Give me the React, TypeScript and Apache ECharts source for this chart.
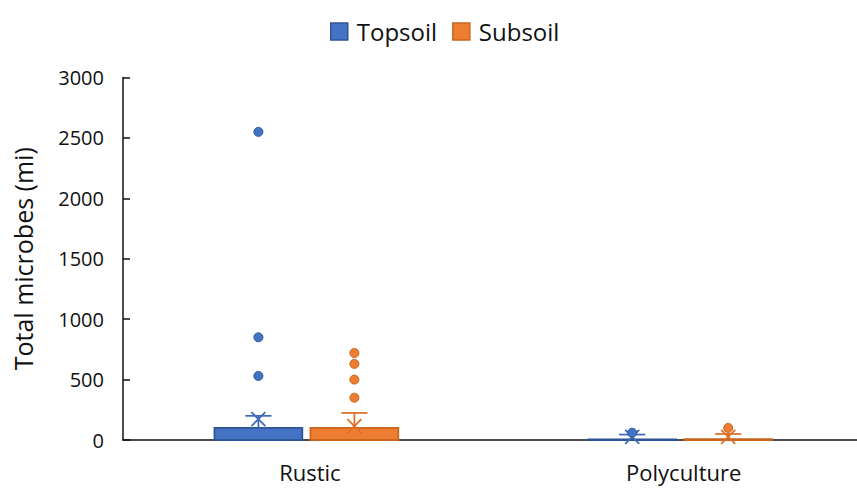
import React, { useEffect, useRef } from 'react';
import * as echarts from 'echarts';

const categories = ['Rustic', 'Polyculture'];
// each row: [min, Q1, median, Q3, max]
const topsoilBox = [
  [0, 0, 0, 100, 200],
  [0, 0, 1, 6, 45],
];
const subsoilBox = [
  [0, 0, 0, 100, 224],
  [0, 0, 1, 8, 50],
];
const topsoilMean = [172, 25];
const subsoilMean = [115, 25];
// [category index, value]
const topsoilOutliers = [
  [0, 2550],
  [0, 850],
  [0, 530],
  [1, 60],
];
const subsoilOutliers = [
  [0, 720],
  [0, 630],
  [0, 500],
  [0, 350],
  [1, 100],
];
const yMin = 0;
const yMax = 3000;
const yInterval = 500;

const FONT = '"Open Sans", "Noto Sans", sans-serif';
const TEXT = '#111111';

const BLUE = { fill: '#4472C4', stroke: '#2F5597', line: '#3F69B8' };
const ORANGE = { fill: '#ED7D31', stroke: '#C9651F', line: '#DD7028' };

function boxRenderer(offset: number, c: { fill: string; stroke: string; line: string }) {
  return (params: any, api: any) => {
    const idx = api.value(0);
    const band = api.size([1, 0])[0];
    const cx = api.coord([idx, 0])[0] + offset * band;
    const w = band * 0.235;
    const y = (v: number) => api.coord([idx, v])[1];
    const yMn = y(api.value(1));
    const yQ1 = y(api.value(2));
    const yMed = y(api.value(3));
    const yQ3 = y(api.value(4));
    const yMx = y(api.value(5));
    const yMean = y(api.value(6));
    const cap = (band * 0.07) / 2;
    const m = 7;
    const ls = { stroke: c.line, lineWidth: 1.75 };
    return {
      type: 'group',
      children: [
        { type: 'line', shape: { x1: cx, y1: yQ3, x2: cx, y2: yMx }, style: ls },
        { type: 'line', shape: { x1: cx - cap, y1: yMx, x2: cx + cap, y2: yMx }, style: ls },
        { type: 'line', shape: { x1: cx, y1: yQ1, x2: cx, y2: yMn }, style: ls },
        { type: 'line', shape: { x1: cx - cap, y1: yMn, x2: cx + cap, y2: yMn }, style: ls },
        {
          type: 'rect',
          shape: { x: cx - w / 2, y: yQ3, width: w, height: Math.max(yQ1 - yQ3, 0.5) },
          style: { fill: c.fill, stroke: c.stroke, lineWidth: 1.75 },
        },
        { type: 'line', shape: { x1: cx - w / 2, y1: yMed, x2: cx + w / 2, y2: yMed }, style: { stroke: c.stroke, lineWidth: 1.5 } },
        { type: 'line', shape: { x1: cx - m, y1: yMean - m, x2: cx + m, y2: yMean + m }, style: ls },
        { type: 'line', shape: { x1: cx - m, y1: yMean + m, x2: cx + m, y2: yMean - m }, style: ls },
      ],
    };
  };
}

function outlierRenderer(offset: number, c: { fill: string; stroke: string; line: string }) {
  return (params: any, api: any) => {
    const idx = api.value(0);
    const band = api.size([1, 0])[0];
    const p = api.coord([idx, api.value(1)]);
    return {
      type: 'circle',
      shape: { cx: p[0] + offset * band, cy: p[1], r: 4.5 },
      style: { fill: c.fill, stroke: c.stroke, lineWidth: 1 },
    };
  };
}

const TOP_OFFSET = -0.1378;
const SUB_OFFSET = 0.119;

export default function App() {
  const ref = useRef<HTMLDivElement>(null);
  useEffect(() => {
    if (!ref.current) return;
    const chart = echarts.init(ref.current, undefined, { renderer: 'svg' });
    chart.setOption({
      animation: false,
      backgroundColor: '#ffffff',
      textStyle: { fontFamily: FONT },
      legend: {
        left: 325,
        top: 14.5,
        padding: 5,
        itemWidth: 17,
        itemHeight: 17,
        itemGap: 15,
        textStyle: { fontSize: 24, color: TEXT, fontFamily: FONT, padding: [0, 0, 0, 4] },
        data: [
          { name: 'Topsoil', icon: 'rect', itemStyle: { color: BLUE.fill, borderColor: BLUE.stroke, borderWidth: 1.5 } },
          { name: 'Subsoil', icon: 'rect', itemStyle: { color: ORANGE.fill, borderColor: ORANGE.stroke, borderWidth: 1.5 } },
        ],
      },
      grid: { left: 123, top: 77.5, width: 747.6, height: 362.5, containLabel: false, outerBoundsMode: 'none' },
      xAxis: {
        type: 'category',
        data: categories,
        boundaryGap: true,
        axisLine: { show: true, lineStyle: { color: '#111', width: 1.5 } },
        axisTick: { show: false },
        axisLabel: { fontSize: 22, color: TEXT, margin: 21, fontFamily: FONT },
        splitLine: { show: false },
      },
      yAxis: {
        type: 'value',
        min: yMin,
        max: yMax,
        interval: yInterval,
        name: 'Total microbes (mi)',
        nameLocation: 'middle',
        nameGap: 88,
        nameTextStyle: { fontSize: 25, color: TEXT, fontFamily: FONT },
        axisLine: { show: true, lineStyle: { color: '#111', width: 1.5 } },
        axisTick: { show: true, inside: true, length: 7, lineStyle: { color: '#111', width: 1.5 } },
        axisLabel: { fontSize: 20, color: TEXT, margin: 19, fontFamily: FONT, formatter: (v: number) => String(v) },
        splitLine: { show: false },
      },
      series: [
        {
          name: 'Topsoil',
          type: 'custom',
          renderItem: boxRenderer(TOP_OFFSET, BLUE),
          itemStyle: { color: BLUE.fill },
          encode: { x: 0, y: [1, 2, 3, 4, 5, 6] },
          data: topsoilBox.map((b, i) => [i, ...b, topsoilMean[i]]),
        },
        {
          name: 'Subsoil',
          type: 'custom',
          renderItem: boxRenderer(SUB_OFFSET, ORANGE),
          itemStyle: { color: ORANGE.fill },
          encode: { x: 0, y: [1, 2, 3, 4, 5, 6] },
          data: subsoilBox.map((b, i) => [i, ...b, subsoilMean[i]]),
        },
        {
          name: 'Topsoil',
          type: 'custom',
          renderItem: outlierRenderer(TOP_OFFSET, BLUE),
          itemStyle: { color: BLUE.fill },
          encode: { x: 0, y: 1 },
          data: topsoilOutliers,
        },
        {
          name: 'Subsoil',
          type: 'custom',
          renderItem: outlierRenderer(SUB_OFFSET, ORANGE),
          itemStyle: { color: ORANGE.fill },
          encode: { x: 0, y: 1 },
          data: subsoilOutliers,
        },
      ],
    });
    return () => chart.dispose();
  }, []);
  return (
    <div style={{ position: 'absolute', left: 0, top: 0, width: 857, height: 488, overflow: 'hidden' }}>
      <div ref={ref} style={{ width: 857, height: 488 }} />
    </div>
  );
}
